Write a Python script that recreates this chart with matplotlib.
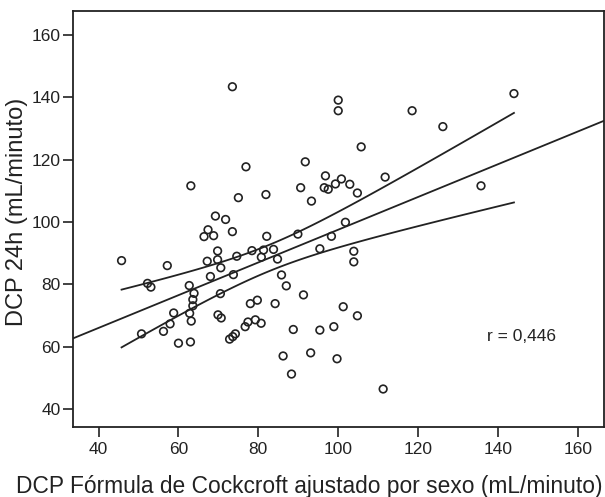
import numpy as np
import matplotlib
matplotlib.use("Agg")
import matplotlib.pyplot as plt

plt.rcParams['font.family'] = ['Liberation Sans', 'DejaVu Sans']

# DCP Cockcroft (x) vs DCP 24h (y)
cockcroft = [73.5, 100, 100, 144, 118.5, 126.2, 105.75, 91.75, 76.9, 63.1,
             96.8, 99.3, 96.5, 97.5, 90.6, 93.3, 81.9, 75, 69.25, 71.8,
             100.8, 102.9, 104.8, 111.75, 135.75, 101.8, 67.4, 66.4, 68.8, 73.5,
             82.1, 89.9, 98.3, 69.8, 78.4, 81.3, 83.8, 95.4, 45.75, 57.2,
             67.2, 69.8, 70.6, 74.6, 80.75, 84.8, 68, 73.75, 85.8, 87,
             91.3, 52.25, 53.1, 62.7, 63.9, 63.6, 63.6, 70.5, 78, 79.75,
             84.2, 58.8, 62.8, 63.2, 69.9, 70.7, 57.9, 56.25, 50.75, 60,
             63, 76.7, 77.4, 79.25, 80.7, 72.8, 73.6, 74.25, 88.75, 95.4,
             98.9, 86.2, 93.1, 99.7, 88.3, 103.9, 103.9, 101.25, 104.8, 111.25]
dcp24h = [143.4, 139.1, 135.7, 141.2, 135.7, 130.6, 124.1, 119.3, 117.7, 111.6,
          114.8, 112.2, 111, 110.5, 111, 106.7, 108.8, 107.8, 101.9, 100.8,
          113.8, 112.1, 109.3, 114.4, 111.6, 99.9, 97.5, 95.3, 95.6, 96.9,
          95.4, 96.1, 95.4, 90.7, 90.8, 91, 91.2, 91.4, 87.6, 86,
          87.4, 87.9, 85.3, 89, 88.7, 88.1, 82.5, 83.1, 83, 79.5,
          76.6, 80.3, 79.1, 79.6, 77.1, 75.1, 73.1, 77, 73.8, 74.9,
          73.8, 70.8, 70.7, 68.2, 70.2, 69.2, 67.3, 64.9, 64.1, 61.1,
          61.5, 66.4, 67.9, 68.6, 67.5, 62.4, 63.2, 64.1, 65.5, 65.3,
          66.4, 57, 58, 56.1, 51.2, 90.6, 87.2, 72.8, 69.9, 46.4]

x_ticks = [40, 60, 80, 100, 120, 140, 160]
y_ticks = [40, 60, 80, 100, 120, 140, 160]
r_label = "r = 0,446"

x = np.array(cockcroft)
y = np.array(dcp24h)
n = len(x)

# least squares fit + 95% CI of the mean
slope, intercept = np.polyfit(x, y, 1)
resid = y - (intercept + slope * x)
s = np.sqrt(np.sum(resid ** 2) / (n - 2))
t = 1.987
xc = np.linspace(x.min(), x.max(), 100)
se = s * np.sqrt(1 / n + (xc - x.mean()) ** 2 / np.sum((x - x.mean()) ** 2))
yc = intercept + slope * xc

fig = plt.figure(figsize=(6.05, 4.97), dpi=100)
ax = fig.add_axes([0.1207, 0.1408, 0.878, 0.8377])

ink = '#222222'
xlim = (33.6, 166.6)
ax.plot(xlim, [intercept + slope * v for v in xlim], color=ink, lw=1.3)
ax.plot(xc, yc + t * se, color=ink, lw=1.3)
ax.plot(xc, yc - t * se, color=ink, lw=1.3)
ax.scatter(x, y, s=30, facecolors='none', edgecolors=ink, linewidths=1.2, zorder=3)

ax.set_xlim(*xlim)
ax.set_ylim(34.2, 167.8)
ax.set_xticks(x_ticks)
ax.set_yticks(y_ticks)
ax.tick_params(direction='out', length=7, width=1.2, colors=ink, labelsize=12.5)
ax.tick_params(axis='y', pad=2)
for sp in ax.spines.values():
    sp.set_color(ink)
    sp.set_linewidth(1.3)

ax.text(146, 63.2, r_label, ha='center', va='center', fontsize=12.5, color=ink)

ax.set_xlabel("DCP Fórmula de Cockcroft ajustado por sexo (mL/minuto)",
              fontsize=16.4, color=ink)
ax.set_ylabel("DCP 24h (mL/minuto)", fontsize=17, color=ink)
ax.xaxis.set_label_coords(0.4455, -0.115)
ax.yaxis.set_label_coords(-0.085, 0.516)

fig.savefig("out.png", dpi=100)
